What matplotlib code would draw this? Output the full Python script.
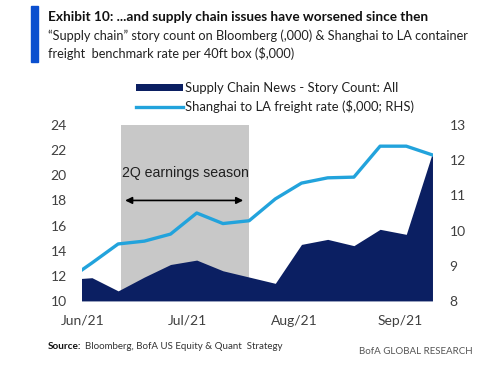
import numpy as np
import matplotlib.pyplot as plt

#######################################################################
# Supply chain story count vs Shanghai-LA freight rate (weekly)
#######################################################################

# week index (-1 is the partial week cut off by the left edge)
week_idx = [-1, 0, 1, 2, 3, 4, 5, 6, 7, 8, 9, 10, 11, 12, 13]

# Supply chain story count on Bloomberg (,000) - left axis
story_count = [11.7, 11.85, 10.8, 11.9, 12.9, 13.25, 12.4, 11.9, 11.4,
               14.5, 14.9, 14.4, 15.7, 15.3, 21.8]

# Shanghai to LA freight rate ($,000) - right axis
freight_rate = [8.56, 9.08, 9.62, 9.7, 9.9, 10.5, 10.2, 10.28, 10.9,
                11.35, 11.5, 11.52, 12.4, 12.4, 12.15]

month_labels = ["Jun/21", "Jul/21", "Aug/21", "Sep/21"]
month_pos = [-0.34, 3.66, 7.71, 11.76]

season_start = 1.11   # 2Q earnings season shading (week index)
season_end = 6.0

#######################################################################
# Styling
#######################################################################

plt.rcParams["font.family"] = ["Lato", "DejaVu Sans"]

navy = "#0b1f62"
light_blue = "#22a3dc"
shade = "#c8c8c8"
tick_grey = "#404040"

fig = plt.figure(figsize=(5.0, 3.79), dpi=100)
ax = fig.add_axes([0.164, 0.206, 0.702, 0.464])
ax2 = ax.twinx()

#######################################################################
# Plot
#######################################################################

ax.axvspan(season_start, season_end, ymin=0, ymax=1, color=shade, lw=0, zorder=0)
ax.fill_between(week_idx, story_count, 10, color=navy, lw=0, zorder=2,
                label="Supply Chain News - Story Count: All")
ax2.plot(week_idx, freight_rate, color=light_blue, lw=2.4,
         label="Shanghai to LA freight rate ($,000; RHS)")

ax.annotate("", xy=(season_start + 0.05, 18), xytext=(season_end - 0.12, 18),
            arrowprops=dict(arrowstyle="<|-|>", color="black", lw=1.2,
                            mutation_scale=10), zorder=5)
ax.text((season_start + season_end) / 2, 20.2, "2Q earnings season",
        ha="center", va="center", fontsize=10.2,
        family=["Liberation Sans", "DejaVu Sans"], color="#202020", zorder=5)

ax.set_xlim(-0.38, 13.02)
ax.set_ylim(10, 24)
ax2.set_ylim(8, 13)
ax.set_yticks(np.arange(10, 25, 2))
ax2.set_yticks(np.arange(8, 14, 1))
ax.set_xticks(month_pos)
ax.set_xticklabels(month_labels)

for a in (ax, ax2):
    for s in a.spines.values():
        s.set_visible(False)
    a.tick_params(length=0, labelsize=10, colors=tick_grey)
ax.tick_params(axis="y", pad=11)
ax2.tick_params(axis="y", pad=12)
ax.tick_params(axis="x", pad=10)

#######################################################################
# Legend and text
#######################################################################

h1, l1 = ax.get_legend_handles_labels()
h2, l2 = ax2.get_legend_handles_labels()
fig.legend(h1 + h2, l1 + l2, loc="upper left", bbox_to_anchor=(0.258, 0.8),
           frameon=False, fontsize=9.4, handlelength=3.6, handleheight=0.5,
           labelspacing=0.45, borderpad=0, handletextpad=0.2,
           labelcolor="#202020")

fig.patches.append(plt.Rectangle((0.062, 0.836), 0.014, 0.148,
                                 transform=fig.transFigure, color="#0a4fcf"))
fig.text(0.096, 0.955, "Exhibit 10: ...and supply chain issues have worsened since then",
         fontsize=9.8, fontweight="bold", color="#111111", va="center")
fig.text(0.096, 0.905, "\u201cSupply chain\u201d story count on Bloomberg (,000) & Shanghai to LA container",
         fontsize=9.2, color="#222222", va="center")
fig.text(0.096, 0.86, "freight  benchmark rate per 40ft box ($,000)",
         fontsize=9.2, color="#222222", va="center")

fig.text(0.096, 0.087, "Source:", fontsize=7.2, fontweight="bold", color="#111111", va="center")
fig.text(0.17, 0.087, "Bloomberg, BofA US Equity & Quant  Strategy", fontsize=7.0,
         color="#333333", va="center")
fig.text(0.946, 0.073, "BofA GLOBAL RESEARCH", fontsize=7.0, color="#555555",
         ha="right", va="center")

fig.savefig("out.png", dpi=100)
